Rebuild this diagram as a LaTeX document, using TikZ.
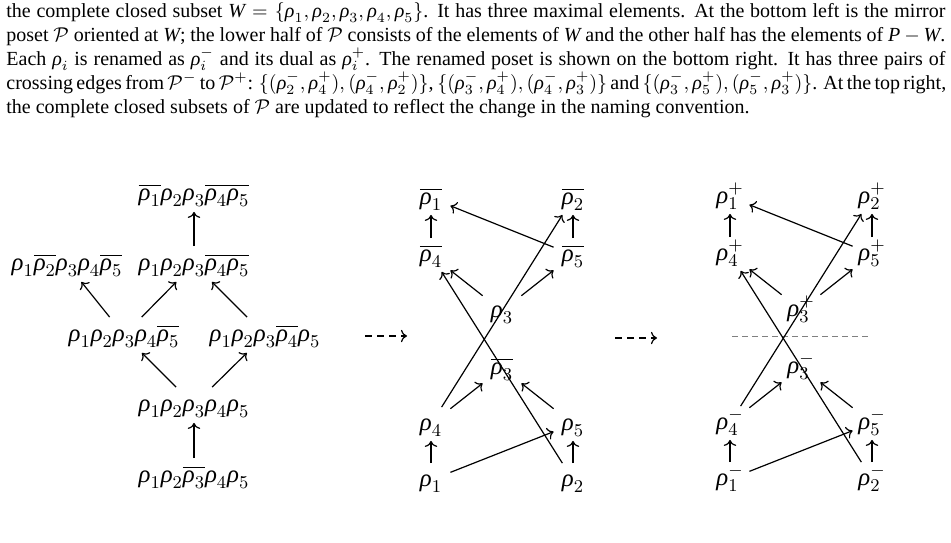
\documentclass[tikz,border=0pt]{standalone}
\usepackage{fontspec}
\setmainfont{Liberation Serif}
\usetikzlibrary{arrows.meta}
\DeclareMathSizes{12.4}{12.4}{9.4}{7}
\newcommand{\rh}{\mbox{\itshape ρ}}
\newcommand{\mW}{\mathit{W}}
\newcommand{\dpl}{\raisebox{-1.6pt}{$\scriptstyle +$}}
\newcommand{\dmi}{\raisebox{-1.6pt}{$\scriptstyle -$}}
\begin{document}
\begin{tikzpicture}[x=0.5pt,y=0.5pt,
  dfont/.style={font=\fontsize{12.4}{15}\selectfont},
  wide/.style={dfont, inner sep=0pt, minimum height=17.5pt, text height=9pt, text depth=3pt},
  pt/.style={dfont, inner sep=0pt, minimum width=19pt, minimum height=16.5pt, text height=9pt, text depth=3pt},
  arr/.style={-{To[length=3pt,width=6.2pt]}, line width=0.6pt},
  dasharr/.style={-{To[length=3pt,width=6.2pt]}, line width=0.6pt, dash pattern=on 3.5pt off 2.5pt},
  midline/.style={line width=0.5pt, gray, dash pattern=on 3pt off 2pt},
  ]
\useasboundingbox (0,0) rectangle (951,-542);

% caption text
\node[anchor=north west, inner sep=0pt, align=left, font=\fontsize{10}{12}\selectfont] (cap) at (6,0) {%
\strut\makebox[469.5pt][s]{the complete closed subset $\mW=\{\rh_1,\rh_2,\rh_3,\rh_4,\rh_5\}$. It has three maximal elements. At the bottom left is the mirror}\\
\makebox[469.5pt][s]{poset $\mathcal{P}$ oriented at $\mW$; the lower half of $\mathcal{P}$ consists of the elements of $\mW$ and the other half has the elements of $\mathit{P}-\mW$.}\\
\makebox[469.5pt][s]{Each $\rh_i$ is renamed as $\rh_i^-$ and its dual as $\rh_i^+$. The renamed poset is shown on the bottom right. It has three pairs of}\\
\makebox[469.5pt][s]{crossing edges from $\mathcal{P}^-$ to $\mathcal{P}^+$: $\{(\rh_2^-,\rh_4^+),(\rh_4^-,\rh_2^+)\}$, $\{(\rh_3^-,\rh_4^+),(\rh_4^-,\rh_3^+)\}$ and $\{(\rh_3^-,\rh_5^+),(\rh_5^-,\rh_3^+)\}$. At the top right,}\\
the complete closed subsets of $\mathcal{P}$ are updated to reflect the change in the naming convention.};

% left diagram
\node[wide, anchor=base] (L1)  at (194,-200) {$\overline{\rh_1}\rh_2\rh_3\overline{\rh_4}\overline{\rh_5}$};
\node[wide, anchor=base] (L2a) at (67,-270)  {$\rh_1\overline{\rh_2}\rh_3\rh_4\overline{\rh_5}$};
\node[wide, anchor=base] (L2b) at (194,-270) {$\rh_1\rh_2\rh_3\overline{\rh_4}\overline{\rh_5}$};
\node[wide, anchor=base] (L3a) at (124,-341) {$\rh_1\rh_2\rh_3\rh_4\overline{\rh_5}$};
\node[wide, anchor=base] (L3b) at (265,-341) {$\rh_1\rh_2\rh_3\overline{\rh_4}\rh_5$};
\node[wide, anchor=base] (L4)  at (194,-411) {$\rh_1\rh_2\rh_3\rh_4\rh_5$};
\node[wide, anchor=base] (L5)  at (194,-482) {$\rh_1\rh_2\overline{\rh_3}\rh_4\rh_5$};
\draw[arr] (L2b) -- (L1);
\draw[arr] (L3a) -- (L2a);
\draw[arr] (L3a) -- (L2b);
\draw[arr] (L3b) -- (L2b);
\draw[arr] (L4) -- (L3a);
\draw[arr] (L4) -- (L3b);
\draw[arr] (L5) -- (L4);

% middle diagram
\node[pt, anchor=base] (M1)  at (431,-204) {$\overline{\rh_1}$};
\node[pt, anchor=base] (M2)  at (573,-204) {$\overline{\rh_2}$};
\node[pt, anchor=base] (M4b) at (431,-261) {$\overline{\rh_4}$};
\node[pt, anchor=base] (M5b) at (573,-261) {$\overline{\rh_5}$};
\node[pt, anchor=base] (M3u) at (502,-317) {$\rh_3$};
\node[pt, anchor=base] (M3b) at (502,-374) {$\overline{\rh_3}$};
\node[pt, anchor=base] (M4)  at (431,-430) {$\rh_4$};
\node[pt, anchor=base] (M5)  at (573,-430) {$\rh_5$};
\node[pt, anchor=base] (M1l) at (431,-486) {$\rh_1$};
\node[pt, anchor=base] (M2l) at (573,-486) {$\rh_2$};
\draw[arr] (M4b) -- (M1);
\draw[arr] (M5b) -- (M2);
\draw[arr] (M5b) -- (M1);
\draw[arr] (M4) -- (M2);
\draw[arr] (M2l) -- (M4b);
\draw[arr] (M3u) -- (M4b);
\draw[arr] (M3u) -- (M5b);
\draw[arr] (M4) -- (M3b);
\draw[arr] (M5) -- (M3b);
\draw[arr] (M1l) -- (M4);
\draw[arr] (M2l) -- (M5);
\draw[arr] (M1l) -- (M5);

% right diagram
\node[pt, anchor=base] (R1)  at (730,-203) {$\rh_1^{\dpl}$};
\node[pt, anchor=base] (R2)  at (872,-203) {$\rh_2^{\dpl}$};
\node[pt, anchor=base] (R4p) at (730,-260) {$\rh_4^{\dpl}$};
\node[pt, anchor=base] (R5p) at (872,-260) {$\rh_5^{\dpl}$};
\node[pt, anchor=base] (R3p) at (801,-316) {$\rh_3^{\dpl}$};
\node[pt, anchor=base] (R3m) at (801,-373) {$\rh_3^{\dmi}$};
\node[pt, anchor=base] (R4m) at (730,-429) {$\rh_4^{\dmi}$};
\node[pt, anchor=base] (R5m) at (872,-429) {$\rh_5^{\dmi}$};
\node[pt, anchor=base] (R1m) at (730,-485) {$\rh_1^{\dmi}$};
\node[pt, anchor=base] (R2m) at (872,-485) {$\rh_2^{\dmi}$};
\coordinate (gl) at (732,-336);
\coordinate (gr) at (870,-336);
\draw[midline] (gl) -- (gr);
\draw[arr] (R4p) -- (R1);
\draw[arr] (R5p) -- (R2);
\draw[arr] (R5p) -- (R1);
\draw[arr] (R4m) -- (R2);
\draw[arr] (R2m) -- (R4p);
\draw[arr] (R3p) -- (R4p);
\draw[arr] (R3p) -- (R5p);
\draw[arr] (R4m) -- (R3m);
\draw[arr] (R5m) -- (R3m);
\draw[arr] (R1m) -- (R4m);
\draw[arr] (R2m) -- (R5m);
\draw[arr] (R1m) -- (R5m);

% dashed transition arrows
\coordinate (da1) at (365,-336);
\coordinate (db1) at (407,-336);
\coordinate (da2) at (615,-338);
\coordinate (db2) at (657,-338);
\draw[dasharr] (da1) -- (db1);
\draw[dasharr] (da2) -- (db2);
\end{tikzpicture}
\end{document}
